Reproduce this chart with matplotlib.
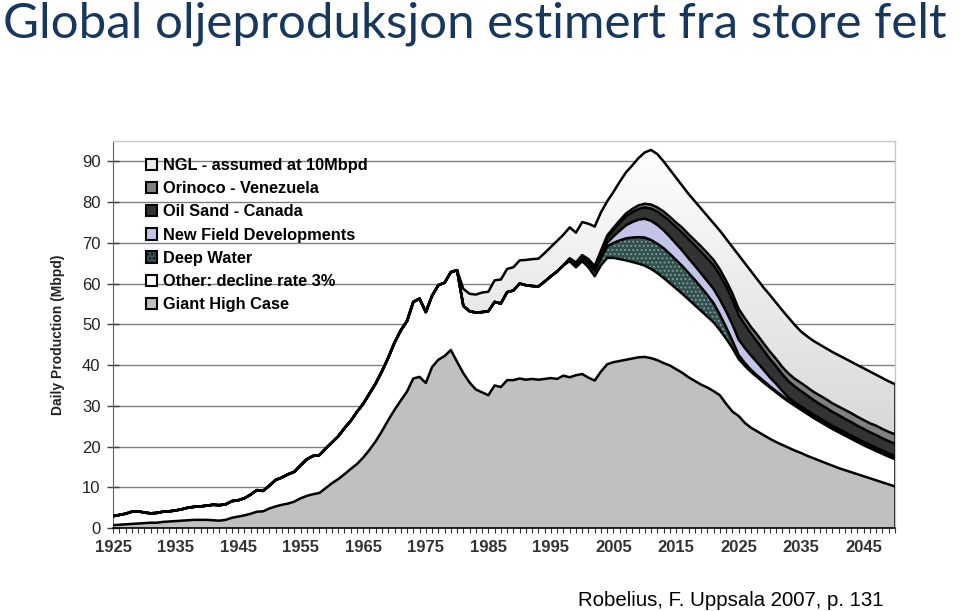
import numpy as np
import matplotlib
matplotlib.use("Agg")
import matplotlib.pyplot as plt
from matplotlib.patches import Patch
from matplotlib.colors import LinearSegmentedColormap

plt.rcParams['font.family'] = ['Liberation Sans', 'DejaVu Sans']
plt.rcParams['hatch.linewidth'] = 0.8

years = list(range(1925, 2051))

giant_high_case = [
    0.7, 0.8, 0.9, 1.0, 1.1, 1.2, 1.3, 1.3, 1.5, 1.6,
    1.7, 1.8, 1.9, 2.0, 2.0, 2.0, 1.9, 1.8, 2.0, 2.5,
    2.8, 3.1, 3.5, 4.0, 4.1, 4.8, 5.3, 5.7, 6.0, 6.5,
    7.3, 7.9, 8.3, 8.6, 9.8, 11.0, 12.0, 13.2, 14.5, 15.7,
    17.3, 19.2, 21.3, 23.8, 26.5, 29.0, 31.3, 33.5, 36.7, 37.1,
    35.6, 39.5, 41.3, 42.2, 43.7, 40.8, 38.0, 35.7, 34.0, 33.3,
    32.6, 35.0, 34.6, 36.3, 36.3, 36.7, 36.4, 36.6, 36.4, 36.6,
    36.8, 36.6, 37.4, 37.0, 37.5, 37.8, 36.9, 36.2, 38.4, 40.2,
    40.7, 41.0, 41.3, 41.6, 41.9, 42.0, 41.7, 41.2, 40.5, 39.9,
    39.0, 38.1, 37.0, 36.1, 35.2, 34.5, 33.6, 32.6, 30.5, 28.6,
    27.5, 25.8, 24.6, 23.7, 22.8, 21.9, 21.1, 20.4, 19.7, 19.0,
    18.4, 17.7, 17.1, 16.5, 15.9, 15.3, 14.7, 14.2, 13.7, 13.2,
    12.7, 12.2, 11.7, 11.2, 10.7, 10.2,
]

other_decline = [
    2.2, 2.4, 2.6, 3.0, 3.0, 2.6, 2.3, 2.4, 2.5, 2.5,
    2.6, 2.8, 3.1, 3.2, 3.3, 3.5, 3.8, 3.8, 3.8, 4.1,
    4.0, 4.2, 4.7, 5.3, 5.0, 5.6, 6.5, 6.7, 7.2, 7.3,
    8.1, 9.0, 9.4, 9.3, 9.7, 10.0, 10.5, 11.3, 11.8, 12.8,
    13.2, 13.8, 14.2, 14.7, 15.3, 16.5, 17.2, 17.3, 18.8, 19.2,
    17.4, 17.5, 18.3, 18.0, 19.1, 22.5, 16.5, 17.5, 18.9, 19.7,
    20.6, 20.5, 20.5, 21.6, 22.0, 23.3, 23.2, 22.8, 22.9, 23.9,
    25.0, 26.4, 27.1, 28.5, 26.5, 27.7, 27.1, 25.6, 26.1, 26.1,
    25.6, 25.0, 24.4, 23.7, 23.0, 22.4, 21.9, 21.4, 20.9, 20.2,
    19.8, 19.4, 19.1, 18.6, 18.1, 17.4, 16.9, 16.0, 16.0, 15.6,
    14.0, 14.0, 13.7, 13.3, 12.9, 12.6, 12.2, 11.7, 11.3, 11.0,
    10.6, 10.3, 9.9, 9.6, 9.3, 9.0, 8.8, 8.5, 8.2, 7.9,
    7.6, 7.4, 7.2, 7.0, 6.8, 6.7,
]

# 1925-1997: no production from these sources
deep_water = [0.0] * 73 + [
    0.3, 0.6, 0.8, 1.0, 1.3, 1.8, 2.8, 3.7, 4.6, 5.4,
    6.0, 6.5, 6.9, 7.1, 7.2, 7.3, 7.2, 7.0, 6.8, 6.5,
    6.2, 5.8, 5.3, 4.7, 3.8, 2.8, 1.8, 1.0, 0.7, 0.5,
    0.4, 0.4, 0.3, 0.3, 0.3, 0.3, 0.3, 0.3, 0.3, 0.3,
    0.3, 0.3, 0.3, 0.3, 0.3, 0.3, 0.3, 0.3, 0.3, 0.3,
    0.3, 0.3, 0.3,
]

new_field = [0.0] * 73 + [
    0.0, 0.0, 0.0, 0.1, 0.2, 0.4, 0.9, 1.6, 2.4, 3.2,
    3.8, 4.3, 4.6, 4.7, 4.6, 4.4, 4.2, 4.0, 3.8, 3.6,
    3.5, 3.4, 3.4, 3.5, 3.7, 3.9, 4.0, 3.8, 3.7, 3.5,
    3.2, 2.7, 2.2, 1.8, 1.2, 0.7, 0.5, 0.5, 0.5, 0.5,
    0.5, 0.5, 0.5, 0.5, 0.5, 0.5, 0.5, 0.5, 0.5, 0.5,
    0.5, 0.5, 0.5,
]

oil_sand = [0.0] * 73 + [
    0.3, 0.4, 0.5, 0.6, 0.7, 1.0, 1.3, 1.6, 1.9, 2.2,
    2.4, 2.6, 2.8, 3.0, 3.3, 3.5, 3.8, 4.1, 4.4, 4.7,
    5.0, 5.3, 5.6, 5.8, 6.0, 6.1, 6.1, 6.0, 5.7, 5.4,
    5.1, 4.8, 4.5, 4.3, 4.1, 4.0, 3.9, 3.8, 3.7, 3.6,
    3.5, 3.5, 3.4, 3.4, 3.3, 3.3, 3.2, 3.2, 3.1, 3.1,
    3.0, 3.0, 3.0,
]

orinoco = [0.0] * 73 + [
    0.1, 0.2, 0.2, 0.3, 0.3, 0.4, 0.5, 0.5, 0.6, 0.7,
    0.8, 0.9, 0.9, 1.0, 1.0, 1.1, 1.1, 1.1, 1.2, 1.2,
    1.2, 1.3, 1.3, 1.3, 1.4, 1.4, 1.5, 1.5, 1.6, 1.6,
    1.7, 1.7, 1.8, 1.8, 1.8, 1.9, 1.9, 2.0, 2.0, 2.0,
    2.1, 2.1, 2.1, 2.1, 2.2, 2.2, 2.2, 2.2, 2.2, 2.3,
    2.3, 2.3, 2.3,
]

# 1925-1980: not shown separately
ngl = [0.0] * 56 + [
    4.2, 4.3, 4.4, 4.8, 4.8, 5.3, 5.9, 5.7, 5.7, 5.7,
    6.2, 6.6, 6.8, 7.0, 7.2, 7.5, 7.5, 7.6, 7.3, 8.1,
    8.7, 9.7, 9.4, 8.4, 8.8, 9.5, 10.1, 10.7, 11.6, 12.6,
    13.4, 13.1, 12.3, 11.6, 11.0, 10.3, 9.9, 9.6, 9.3, 9.1,
    9.0, 9.5, 10.3, 11.4, 13.2, 13.5, 13.7, 13.6, 13.7, 13.9,
    13.8, 13.9, 13.7, 13.2, 12.6, 12.5, 12.5, 12.5, 12.5, 12.6,
    12.6, 12.6, 12.6, 12.7, 12.7, 12.7, 12.5, 12.5, 12.4, 12.3,
]

series = [
    ("Giant High Case", giant_high_case, "#c0c0c0"),
    ("Other: decline rate 3%", other_decline, "#ffffff"),
    ("Deep Water", deep_water, "#34504f"),
    ("New Field Developments", new_field, "#c4c4e8"),
    ("Oil Sand - Canada", oil_sand, "#333333"),
    ("Orinoco - Venezuela", orinoco, "#808080"),
    ("NGL - assumed at 10Mbpd", ngl, None),
]

x = np.array(years, dtype=float)
fig = plt.figure(figsize=(9.6, 6.11), dpi=100)
ax = fig.add_axes([113 / 960, 1 - 528 / 611, (895 - 113) / 960, (528 - 141) / 611])

ymax = 95
ax.set_xlim(1925, 2050)
ax.set_ylim(0, ymax)
for v in range(10, 100, 10):
    ax.axhline(v, color="#808080", lw=1.0, zorder=0.5)

base = np.zeros_like(x)
tops = []
for name, vals, color in series:
    top = base + np.array(vals, dtype=float)
    if color is None:
        poly = ax.fill_between(x, base, top, facecolor="none", edgecolor="none", zorder=1)
        grad = np.linspace(0, 1, 256).reshape(-1, 1)
        cmap = LinearSegmentedColormap.from_list("ngl", ["#cccccc", "#ffffff"])
        im = ax.imshow(grad, extent=[1925, 2050, 0, ymax], origin="lower", cmap=cmap,
                       aspect="auto", zorder=1, interpolation="bilinear")
        im.set_clip_path(poly.get_paths()[0], ax.transData)
    else:
        ax.fill_between(x, base, top, facecolor=color, edgecolor="none", lw=0, zorder=1)
        if name == "Deep Water":
            ax.fill_between(x, base, top, facecolor="none", edgecolor="#7fa3a0",
                            hatch="....", lw=0, zorder=1.1)
    tops.append(top)
    base = top

for top in tops:
    ax.plot(x, top, color="black", lw=1.8, zorder=3, solid_joinstyle="round")
ax.plot([2050, 2050], [0, tops[-1][-1]], color="black", lw=1.8, zorder=3)
ax.set_xlim(1925, 2050)
ax.set_ylim(0, ymax)

# axes styling
for side in ["top", "right"]:
    ax.spines[side].set_color("#c8c8c8")
    ax.spines[side].set_linewidth(1.0)
ax.spines["left"].set_color("#606060")
ax.spines["bottom"].set_color("black")
ax.spines["bottom"].set_linewidth(1.2)
ax.set_yticks(range(0, 100, 10))
ax.set_yticklabels([str(v) for v in range(0, 100, 10)], fontsize=12, color="#222222")
ax.tick_params(axis="y", length=8, width=1, color="#404040", pad=5, direction="inout")
ax.set_xticks(range(1925, 2050, 10))
ax.set_xticklabels([str(v) for v in range(1925, 2050, 10)], fontsize=12, fontweight="bold",
                   color="#333333")
ax.set_xticks(years, minor=True)
ax.tick_params(axis="x", which="both", length=3.5, width=0.8, color="#333333", pad=5)
ax.set_ylabel("Daily Production (Mbpd)", fontsize=10, fontweight="bold", color="#222222")
ax.yaxis.set_label_coords((65 - 113) / 782, 0.5)

# legend
handles = []
for name, vals, color in reversed(series):
    if color is None:
        handles.append(Patch(facecolor="#ececec", edgecolor="black", lw=1.5, label=name))
    elif name == "Deep Water":
        handles.append(Patch(facecolor="#34504f", edgecolor="black", lw=1.5, hatch="....", label=name))
    else:
        handles.append(Patch(facecolor=color, edgecolor="black", lw=1.5, label=name))
leg = ax.legend(handles=handles, loc="upper left", bbox_to_anchor=(146 / 960, 1 - 158 / 611),
                bbox_transform=fig.transFigure, frameon=False, prop={"weight": "bold", "size": 11.8},
                handlelength=0.7, handleheight=0.7, handletextpad=0.35, labelspacing=0.5,
                borderpad=0, borderaxespad=0)
leg.set_zorder(5)

fig.text(0.003, 1 - 24 / 611, "Global oljeproduksjon estimert fra store felt", fontsize=35.5,
         color="#17375e", family=["Lato", "DejaVu Sans"], va="center", ha="left")
fig.text(884 / 960, 1 - 600 / 611, "Robelius, F. Uppsala 2007, p. 131", fontsize=14.7,
         color="black", ha="right", va="center")

fig.savefig("out.png", dpi=100)
